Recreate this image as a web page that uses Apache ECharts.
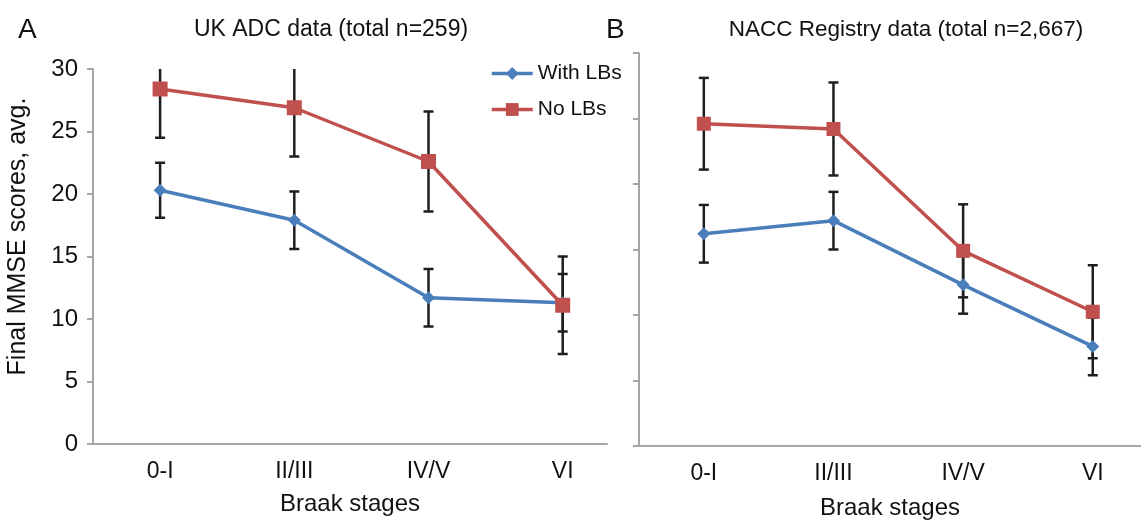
<!DOCTYPE html>
<html>
<head>
<meta charset="utf-8">
<script src="https://cdn.jsdelivr.net/npm/echarts@6/dist/echarts.min.js"></script>
<style>
html,body{margin:0;padding:0;background:#fff;}
#chart{width:1141px;height:521px;}
</style>
</head>
<body>
<div id="chart"></div>
<script>
// ---- data ----
const categories = ['0-I', 'II/III', 'IV/V', 'VI'];
const yTicks = [0, 5, 10, 15, 20, 25, 30];

// Panel A: UK ADC data
const ukWithLB = [20.3, 17.9, 11.7, 11.3];
const ukWithLBErr = [2.2, 2.3, 2.3, 2.3];
const ukNoLB = [28.4, 26.9, 22.6, 11.1];
const ukNoLBErr = [3.9, 3.9, 4.0, 3.9];

// Panel B: NACC Registry data
const naccWithLB = [16.2, 17.2, 12.3, 7.6];
const naccWithLBErr = [2.2, 2.2, 2.2, 2.2];
const naccNoLB = [24.6, 24.2, 14.9, 10.25];
const naccNoLBErr = [3.5, 3.55, 3.55, 3.55];

const seriesNames = ['With LBs', 'No LBs'];

// ---- styles ----
const FONT = 'Liberation Sans';
const BLUE = '#4a7ebb';
const RED = '#c0504d';
const AXIS = '#a6a6a6';

function pts(vals) { return vals.map((v, i) => [i, v]); }
function errData(vals, errs) { return vals.map((v, i) => [i, v - errs[i], v + errs[i]]); }

function errorSeries(idx, vals, errs, name) {
  return {
    type: 'custom',
    name: name,
    xAxisIndex: idx, yAxisIndex: idx,
    clip: true,
    z: 1,
    silent: true,
    data: errData(vals, errs),
    renderItem: function (params, api) {
      const x = api.value(0);
      const lo = api.coord([x, api.value(1)]);
      const hi = api.coord([x, api.value(2)]);
      const cap = 5;
      const style = { stroke: '#1e1e1e', lineWidth: 2.5 };
      return {
        type: 'group',
        children: [
          { type: 'line', shape: { x1: lo[0], y1: lo[1], x2: hi[0], y2: hi[1] }, style: style },
          { type: 'line', shape: { x1: lo[0] - cap, y1: lo[1], x2: lo[0] + cap, y2: lo[1] }, style: style },
          { type: 'line', shape: { x1: hi[0] - cap, y1: hi[1], x2: hi[0] + cap, y2: hi[1] }, style: style }
        ]
      };
    }
  };
}

function lineSeries(idx, vals, name, color, symbol, size) {
  return {
    type: 'line',
    name: name,
    xAxisIndex: idx, yAxisIndex: idx,
    data: pts(vals),
    symbol: symbol,
    symbolSize: size,
    showAllSymbol: true,
    z: 3,
    lineStyle: { color: color, width: 3.5 },
    itemStyle: { color: color },
    emphasis: { disabled: true },
    animation: false
  };
}

function xAxisDef(idx, max, gap) {
  return {
    type: 'value',
    gridIndex: idx,
    min: -0.5,
    max: max,
    name: 'Braak stages',
    nameLocation: 'middle',
    nameGap: gap,
    nameTextStyle: { fontFamily: FONT, fontSize: 24, color: '#111' },
    axisLine: { show: true, onZero: false, lineStyle: { color: AXIS, width: 2 } },
    axisTick: { show: false },
    splitLine: { show: false },
    axisLabel: {
      customValues: categories.map((c, i) => i),
      formatter: function (v) { return categories[Math.round(v)]; },
      fontFamily: FONT, fontSize: 23, color: '#111', margin: 16
    }
  };
}

function yAxisDef(idx, showLabels) {
  const ax = {
    type: 'value',
    gridIndex: idx,
    min: yTicks[0],
    max: yTicks[yTicks.length - 1],
    interval: yTicks[1] - yTicks[0],
    axisLine: { show: true, onZero: false, lineStyle: { color: AXIS, width: 2 } },
    axisTick: { show: true, length: 6, lineStyle: { color: AXIS, width: 2 } },
    splitLine: { show: false },
    axisLabel: { show: showLabels, fontFamily: FONT, fontSize: 24, color: '#111', margin: 15 }
  };
  if (showLabels) {
    ax.name = 'Final MMSE scores, avg.';
    ax.nameLocation = 'middle';
    ax.nameGap = 62;
    ax.nameTextStyle = { fontFamily: FONT, fontSize: 25, color: '#111', padding: [0, 0, 0, 40] };
  }
  return ax;
}

const chart = echarts.init(document.getElementById('chart'), null, { renderer: 'canvas' });
chart.setOption({
  animation: false,
  backgroundColor: '#ffffff',
  title: [
    { text: 'A', left: 13, top: 11, textStyle: { fontFamily: FONT, fontSize: 28, fontWeight: 'normal', color: '#111' } },
    { text: 'UK ADC data (total n=259)', left: 326, top: 13, textAlign: 'center', textStyle: { fontFamily: FONT, fontSize: 23, fontWeight: 'normal', color: '#111' } },
    { text: 'B', left: 601, top: 11, textStyle: { fontFamily: FONT, fontSize: 28, fontWeight: 'normal', color: '#111' } },
    { text: 'NACC Registry data (total n=2,667)', left: 901, top: 13, textAlign: 'center', textStyle: { fontFamily: FONT, fontSize: 22.5, fontWeight: 'normal', color: '#111' } }
  ],
  legend: {
    data: seriesNames,
    orient: 'vertical',
    left: 490,
    top: 63,
    padding: 0,
    itemWidth: 41,
    itemHeight: 16,
    itemGap: 15,
    lineStyle: { width: 3.5 },
    textStyle: { fontFamily: FONT, fontSize: 21, color: '#111' },
    selectedMode: false
  },
  grid: [
    { left: 93, top: 69, width: 514, height: 375, containLabel: false, outerBoundsMode: 'none' },
    { left: 639, top: 53, width: 502, height: 393, containLabel: false, outerBoundsMode: 'none' }
  ],
  xAxis: [xAxisDef(0, 3.33, 48), xAxisDef(1, 3.372, 50)],
  yAxis: [yAxisDef(0, true), yAxisDef(1, false)],
  series: [
    errorSeries(0, ukWithLB, ukWithLBErr, 'errA1'),
    errorSeries(0, ukNoLB, ukNoLBErr, 'errA2'),
    errorSeries(1, naccWithLB, naccWithLBErr, 'errB1'),
    errorSeries(1, naccNoLB, naccNoLBErr, 'errB2'),
    lineSeries(0, ukWithLB, seriesNames[0], BLUE, 'diamond', 13),
    lineSeries(0, ukNoLB, seriesNames[1], RED, 'rect', 15),
    lineSeries(1, naccWithLB, seriesNames[0], BLUE, 'diamond', 13),
    lineSeries(1, naccNoLB, seriesNames[1], RED, 'rect', 14)
  ]
});
</script>
</body>
</html>
